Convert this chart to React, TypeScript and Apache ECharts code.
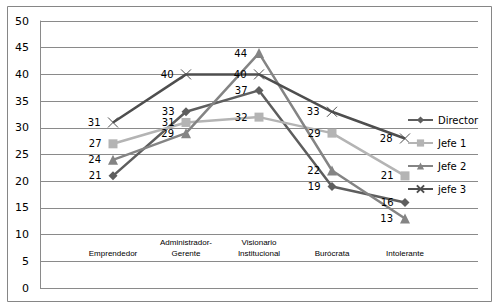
import React, { useEffect, useRef } from "react";
import * as echarts from "echarts";

const categories = ["", "Emprendedor", "Administrador-\nGerente", "Visionario\nInstitucional", "Burócrata", "Intolerante", ""];
const director = [null, 21, 33, 37, 19, 16, null];
const jefe1 = [null, 27, 31, 32, 29, 21, null];
const jefe2 = [null, 24, 29, 44, 22, 13, null];
const jefe3 = [null, 31, 40, 40, 33, 28, null];
const seriesNames = ["Director", "Jefe 1", "Jefe 2", "jefe 3"];

const FONT = "DejaVu Sans";

export default function App() {
  const ref = useRef<HTMLDivElement>(null);
  useEffect(() => {
    if (!ref.current) return;
    const chart = echarts.init(ref.current, null, { renderer: "svg" });
    const label = {
      show: true,
      position: "left",
      distance: 7,
      color: "#000",
      fontSize: 10,
      fontFamily: FONT,
    };
    const mk = (name: string, data: any[], color: string, symbol: string, size: number, extra: any = {}) => ({
      name,
      type: "line",
      data,
      symbol,
      symbolSize: size,
      showAllSymbol: true,
      lineStyle: { color, width: 2.5 },
      itemStyle: { color, ...extra },
      label,
      z: 2,
    });
    chart.setOption({
      animation: false,
      backgroundColor: "#fff",
      grid: { left: 40, top: 21, right: 18, bottom: 19, containLabel: false },
      graphic: [
        {
          type: "rect",
          shape: { x: 7.5, y: 6.5, width: 484, height: 295 },
          style: { fill: "none", stroke: "#868686", lineWidth: 1 },
          silent: true,
        },
      ],
      legend: {
        orient: "vertical",
        left: 407,
        top: 115,
        itemWidth: 25,
        itemHeight: 9,
        itemGap: 13,
        padding: 0,
        selectedMode: false,
        data: seriesNames,
        textStyle: { color: "#000", fontSize: 10, fontFamily: FONT },
      },
      xAxis: {
        type: "category",
        data: categories,
        boundaryGap: false,
        axisLine: { show: false },
        axisTick: { show: false },
        splitLine: { show: false },
        axisLabel: {
          interval: 0,
          margin: -29,
          verticalAlign: "bottom",
          fontSize: 8,
          lineHeight: 11,
          fontFamily: "Liberation Sans",
          color: "#000",
        },
      },
      yAxis: {
        type: "value",
        min: 0,
        max: 50,
        interval: 5,
        axisLine: { show: true, lineStyle: { color: "#8a8a8a", width: 1 } },
        axisTick: { show: false },
        splitLine: { show: true, lineStyle: { color: "#8a8a8a", width: 1 } },
        axisLabel: { color: "#000", fontSize: 11, fontFamily: FONT, margin: 11 },
      },
      series: [
        mk("Director", director, "#5e5e5e", "diamond", 9),
        mk("Jefe 1", jefe1, "#b4b4b4", "rect", 9),
        mk("Jefe 2", jefe2, "#848484", "triangle", 10),
        mk("jefe 3", jefe3, "#4e4e4e", "path://M0,0L10,10M10,0L0,10", 10, {
          borderColor: "#4e4e4e",
          borderWidth: 1,
        }),
      ],
    });
    return () => chart.dispose();
  }, []);
  return (
    <div
      ref={ref}
      style={{ position: "fixed", left: 0, top: 0, width: 496, height: 307 }}
    />
  );
}
